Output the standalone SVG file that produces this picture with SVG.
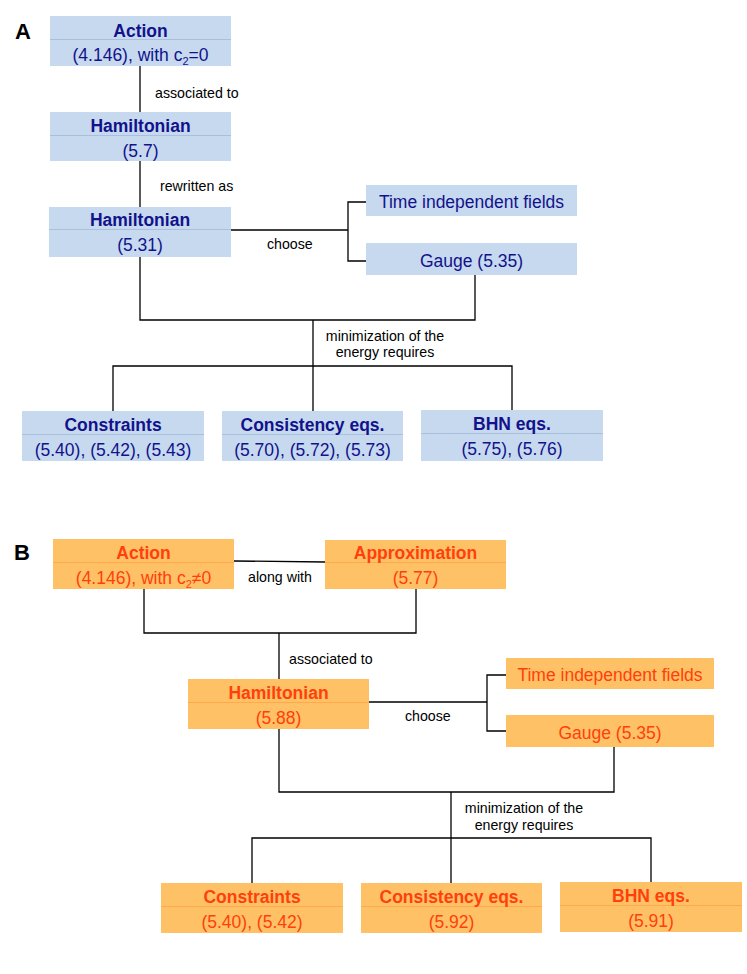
<svg xmlns="http://www.w3.org/2000/svg" width="747" height="974" viewBox="0 0 747 974">
<style>
text{font-family:"Liberation Sans",Arial,sans-serif;}
.ba{fill:#c6d9ee;}
.bd{stroke:#a8c0dd;stroke-width:1;}
.ta{fill:#12128c;font-size:17.5px;text-anchor:middle;}
.oa{fill:#ffc166;}
.od{stroke:#ffa94a;stroke-width:1;}
.to{fill:#ff3f0c;font-size:17.5px;text-anchor:middle;}
.b{font-weight:bold;}
.lbl{fill:#000;font-size:14.2px;}
.pl{fill:#000;font-size:22px;font-weight:bold;}
.c{stroke:#000;stroke-width:1.3;fill:none;}
</style>
<text class="pl" x="15" y="39">A</text>
<text class="pl" x="14" y="560">B</text>
<g id="connectors">
<path class="c" d="M140 66V112"/>
<path class="c" d="M140 161V207"/>
<path class="c" d="M231 230H348M367 202H348V261H367"/>
<path class="c" d="M140 257V320H475V275"/>
<path class="c" d="M313 320V366"/>
<path class="c" d="M113 411V366H512V410M313 366V411"/>
<path class="c" d="M234 561L325 562"/>
<path class="c" d="M144 589V633H416V589M279 633V679"/>
<path class="c" d="M369 702H487M506 675H487V731H506"/>
<path class="c" d="M279 729V792H614V747"/>
<path class="c" d="M451 792V838"/>
<path class="c" d="M252 883V838H651V882M451 838V883"/>
</g>
<g id="labels">
<text class="lbl" x="155" y="98">associated to</text>
<text class="lbl" x="160" y="191">rewritten as</text>
<text class="lbl" x="267" y="249">choose</text>
<text class="lbl" x="385" y="341" text-anchor="middle">minimization of the</text>
<text class="lbl" x="385" y="357" text-anchor="middle">energy requires</text>
<text class="lbl" x="248" y="582">along with</text>
<text class="lbl" x="289" y="664">associated to</text>
<text class="lbl" x="405" y="721">choose</text>
<text class="lbl" x="524" y="813" text-anchor="middle">minimization of the</text>
<text class="lbl" x="524" y="830" text-anchor="middle">energy requires</text>
</g>
<g id="a-action">
<rect class="ba" x="50" y="16" width="181" height="50"/>
<line class="bd" x1="50" y1="39.5" x2="231" y2="39.5"/>
<text class="ta b" x="140.5" y="37">Action</text>
<text class="ta" x="140.5" y="61">(4.146), with c<tspan font-size="11" dy="4">2</tspan><tspan dy="-4">=0</tspan></text>
</g>
<g id="a-hamiltonian1">
<rect class="ba" x="50" y="112" width="181" height="49"/>
<line class="bd" x1="50" y1="135.5" x2="231" y2="135.5"/>
<text class="ta b" x="140.5" y="132">Hamiltonian</text>
<text class="ta" x="140.5" y="157">(5.7)</text>
</g>
<g id="a-hamiltonian2">
<rect class="ba" x="49" y="207" width="182" height="50"/>
<line class="bd" x1="49" y1="229.5" x2="231" y2="229.5"/>
<text class="ta b" x="140" y="226">Hamiltonian</text>
<text class="ta" x="140" y="251">(5.31)</text>
</g>
<g id="a-time">
<rect class="ba" x="366" y="185" width="211" height="31"/>
<text class="ta" x="471.5" y="208">Time independent fields</text>
</g>
<g id="a-gauge">
<rect class="ba" x="366" y="243" width="211" height="32"/>
<text class="ta" x="471.5" y="267">Gauge (5.35)</text>
</g>
<g id="a-constraints">
<rect class="ba" x="22" y="411" width="182" height="50"/>
<line class="bd" x1="22" y1="434.5" x2="204" y2="434.5"/>
<text class="ta b" x="113" y="431">Constraints</text>
<text class="ta" x="113" y="456">(5.40), (5.42), (5.43)</text>
</g>
<g id="a-consistency">
<rect class="ba" x="222" y="411" width="181" height="50"/>
<line class="bd" x1="222" y1="434.5" x2="403" y2="434.5"/>
<text class="ta b" x="312.5" y="431">Consistency eqs.</text>
<text class="ta" x="312.5" y="456">(5.70), (5.72), (5.73)</text>
</g>
<g id="a-bhn">
<rect class="ba" x="421" y="410" width="182" height="51"/>
<line class="bd" x1="421" y1="433.5" x2="603" y2="433.5"/>
<text class="ta b" x="512" y="430">BHN eqs.</text>
<text class="ta" x="512" y="455">(5.75), (5.76)</text>
</g>
<g id="b-action">
<rect class="oa" x="53" y="539" width="181" height="50"/>
<line class="od" x1="53" y1="562.5" x2="234" y2="562.5"/>
<text class="to b" x="143.5" y="559">Action</text>
<text class="to" x="143.5" y="584">(4.146), with c<tspan font-size="11" dy="4">2</tspan><tspan dy="-4">≠0</tspan></text>
</g>
<g id="b-approximation">
<rect class="oa" x="325" y="540" width="181" height="49"/>
<line class="od" x1="325" y1="562.5" x2="506" y2="562.5"/>
<text class="to b" x="415.5" y="559">Approximation</text>
<text class="to" x="415.5" y="584">(5.77)</text>
</g>
<g id="b-hamiltonian">
<rect class="oa" x="188" y="679" width="181" height="50"/>
<line class="od" x1="188" y1="702.5" x2="369" y2="702.5"/>
<text class="to b" x="278.5" y="699">Hamiltonian</text>
<text class="to" x="278.5" y="724">(5.88)</text>
</g>
<g id="b-time">
<rect class="oa" x="506" y="658" width="208" height="31"/>
<text class="to" x="610" y="681">Time independent fields</text>
</g>
<g id="b-gauge">
<rect class="oa" x="506" y="715" width="208" height="32"/>
<text class="to" x="610" y="739">Gauge (5.35)</text>
</g>
<g id="b-constraints">
<rect class="oa" x="161" y="883" width="182" height="50"/>
<line class="od" x1="161" y1="906.5" x2="343" y2="906.5"/>
<text class="to b" x="252" y="903">Constraints</text>
<text class="to" x="252" y="928">(5.40), (5.42)</text>
</g>
<g id="b-consistency">
<rect class="oa" x="361" y="883" width="181" height="50"/>
<line class="od" x1="361" y1="906.5" x2="542" y2="906.5"/>
<text class="to b" x="451.5" y="903">Consistency eqs.</text>
<text class="to" x="451.5" y="928">(5.92)</text>
</g>
<g id="b-bhn">
<rect class="oa" x="560" y="882" width="182" height="50"/>
<line class="od" x1="560" y1="905.5" x2="742" y2="905.5"/>
<text class="to b" x="651" y="902">BHN eqs.</text>
<text class="to" x="651" y="927">(5.91)</text>
</g>
</svg>
